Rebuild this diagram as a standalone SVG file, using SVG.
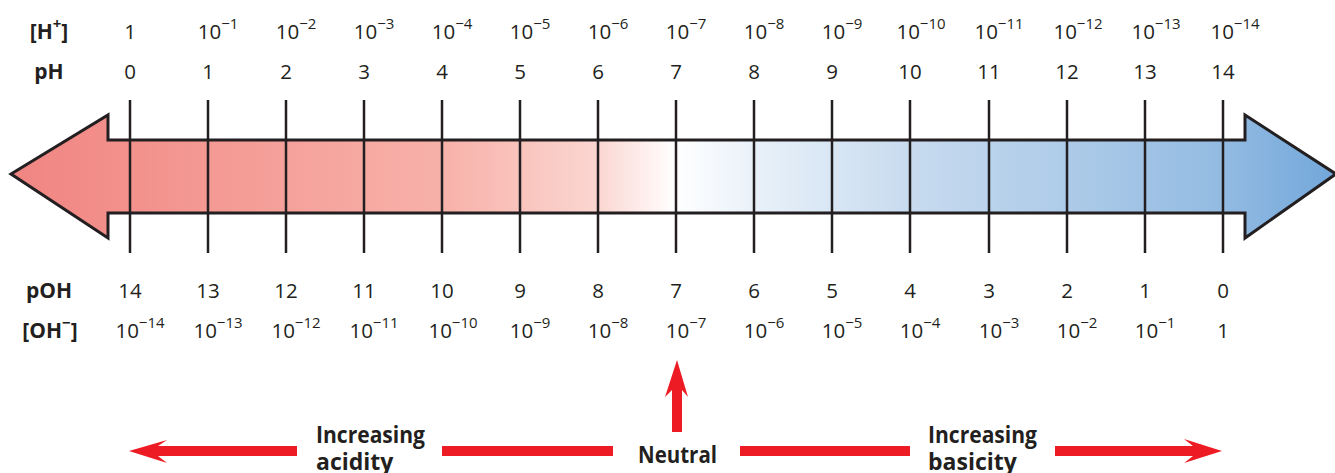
<svg xmlns="http://www.w3.org/2000/svg" width="1335" height="473" viewBox="0 0 1335 473">
<style>
text{font-family:"Open Sans","Liberation Sans",sans-serif;fill:#231F20}
.num{font-size:20.5px;text-anchor:middle}
.sup{font-size:15px}
.lab{font-size:21px;font-weight:700;text-anchor:middle}
.cap{font-size:23px;font-weight:700}
.tick{stroke:#231F20;stroke-width:2.5}
.red{fill:#ED1C24}
</style>
<defs>
<linearGradient id="grad" gradientUnits="userSpaceOnUse" x1="11" y1="0" x2="1335" y2="0">
<stop offset="0" stop-color="#F08582"/>
<stop offset="0.09" stop-color="#F3918C"/>
<stop offset="0.325" stop-color="#F7B1A9"/>
<stop offset="0.443" stop-color="#FBD6D1"/>
<stop offset="0.502" stop-color="#FFFFFF"/>
<stop offset="0.561" stop-color="#E9F1F9"/>
<stop offset="0.679" stop-color="#C8DBEF"/>
<stop offset="0.915" stop-color="#93BBE2"/>
<stop offset="1" stop-color="#72A7DA"/>
</linearGradient>
</defs>
<g id="scale-arrow">
<path d="M11,174 L108,115 L108,140 L1245,140 L1245,115 L1336,174 L1245,238 L1245,213 L108,213 L108,238 Z" fill="url(#grad)" stroke="#231F20" stroke-width="3" stroke-linejoin="miter"/>
</g>
<g id="ticks">
<line class="tick" x1="130" y1="100" x2="130" y2="253"/>
<line class="tick" x1="208" y1="100" x2="208" y2="253"/>
<line class="tick" x1="286" y1="100" x2="286" y2="253"/>
<line class="tick" x1="364" y1="100" x2="364" y2="253"/>
<line class="tick" x1="442" y1="100" x2="442" y2="253"/>
<line class="tick" x1="520" y1="100" x2="520" y2="253"/>
<line class="tick" x1="598" y1="100" x2="598" y2="253"/>
<line class="tick" x1="676" y1="100" x2="676" y2="253"/>
<line class="tick" x1="754" y1="100" x2="754" y2="253"/>
<line class="tick" x1="832" y1="100" x2="832" y2="253"/>
<line class="tick" x1="910" y1="100" x2="910" y2="253"/>
<line class="tick" x1="989" y1="100" x2="989" y2="253"/>
<line class="tick" x1="1067" y1="100" x2="1067" y2="253"/>
<line class="tick" x1="1145" y1="100" x2="1145" y2="253"/>
<line class="tick" x1="1223" y1="100" x2="1223" y2="253"/>
</g>
<g id="row-labels">
<text class="lab" x="49" y="39">[H<tspan class="sup" dy="-10">+</tspan><tspan dy="10">]</tspan></text>
<text class="lab" x="49" y="79">pH</text>
<text class="lab" x="49" y="298">pOH</text>
<text class="lab" x="50" y="338">[OH<tspan class="sup" dy="-10">−</tspan><tspan dy="10">]</tspan></text>
</g>
<g id="h-row">
<text class="num" x="130" y="39">1</text>
<text class="num" x="218" y="39">10<tspan class="sup" dy="-10">−1</tspan></text>
<text class="num" x="296" y="39">10<tspan class="sup" dy="-10">−2</tspan></text>
<text class="num" x="374" y="39">10<tspan class="sup" dy="-10">−3</tspan></text>
<text class="num" x="452" y="39">10<tspan class="sup" dy="-10">−4</tspan></text>
<text class="num" x="530" y="39">10<tspan class="sup" dy="-10">−5</tspan></text>
<text class="num" x="608" y="39">10<tspan class="sup" dy="-10">−6</tspan></text>
<text class="num" x="686" y="39">10<tspan class="sup" dy="-10">−7</tspan></text>
<text class="num" x="764" y="39">10<tspan class="sup" dy="-10">−8</tspan></text>
<text class="num" x="842" y="39">10<tspan class="sup" dy="-10">−9</tspan></text>
<text class="num" x="921" y="39">10<tspan class="sup" dy="-10">−10</tspan></text>
<text class="num" x="999" y="39">10<tspan class="sup" dy="-10">−11</tspan></text>
<text class="num" x="1078" y="39">10<tspan class="sup" dy="-10">−12</tspan></text>
<text class="num" x="1156" y="39">10<tspan class="sup" dy="-10">−13</tspan></text>
<text class="num" x="1235" y="39">10<tspan class="sup" dy="-10">−14</tspan></text>
</g>
<g id="ph-row">
<text class="num" x="130" y="79">0</text>
<text class="num" x="208" y="79">1</text>
<text class="num" x="286" y="79">2</text>
<text class="num" x="364" y="79">3</text>
<text class="num" x="442" y="79">4</text>
<text class="num" x="520" y="79">5</text>
<text class="num" x="598" y="79">6</text>
<text class="num" x="676" y="79">7</text>
<text class="num" x="754" y="79">8</text>
<text class="num" x="832" y="79">9</text>
<text class="num" x="910" y="79">10</text>
<text class="num" x="989" y="79">11</text>
<text class="num" x="1067" y="79">12</text>
<text class="num" x="1145" y="79">13</text>
<text class="num" x="1223" y="79">14</text>
</g>
<g id="poh-row">
<text class="num" x="130" y="298">14</text>
<text class="num" x="208" y="298">13</text>
<text class="num" x="286" y="298">12</text>
<text class="num" x="364" y="298">11</text>
<text class="num" x="442" y="298">10</text>
<text class="num" x="520" y="298">9</text>
<text class="num" x="598" y="298">8</text>
<text class="num" x="676" y="298">7</text>
<text class="num" x="754" y="298">6</text>
<text class="num" x="832" y="298">5</text>
<text class="num" x="910" y="298">4</text>
<text class="num" x="989" y="298">3</text>
<text class="num" x="1067" y="298">2</text>
<text class="num" x="1145" y="298">1</text>
<text class="num" x="1223" y="298">0</text>
</g>
<g id="oh-row">
<text class="num" x="140" y="338">10<tspan class="sup" dy="-10">−14</tspan></text>
<text class="num" x="218" y="338">10<tspan class="sup" dy="-10">−13</tspan></text>
<text class="num" x="296" y="338">10<tspan class="sup" dy="-10">−12</tspan></text>
<text class="num" x="374" y="338">10<tspan class="sup" dy="-10">−11</tspan></text>
<text class="num" x="453" y="338">10<tspan class="sup" dy="-10">−10</tspan></text>
<text class="num" x="530" y="338">10<tspan class="sup" dy="-10">−9</tspan></text>
<text class="num" x="608" y="338">10<tspan class="sup" dy="-10">−8</tspan></text>
<text class="num" x="686" y="338">10<tspan class="sup" dy="-10">−7</tspan></text>
<text class="num" x="764" y="338">10<tspan class="sup" dy="-10">−6</tspan></text>
<text class="num" x="842" y="338">10<tspan class="sup" dy="-10">−5</tspan></text>
<text class="num" x="920" y="338">10<tspan class="sup" dy="-10">−4</tspan></text>
<text class="num" x="999" y="338">10<tspan class="sup" dy="-10">−3</tspan></text>
<text class="num" x="1077" y="338">10<tspan class="sup" dy="-10">−2</tspan></text>
<text class="num" x="1155" y="338">10<tspan class="sup" dy="-10">−1</tspan></text>
<text class="num" x="1223" y="338">1</text>
</g>
<g id="connectors">
<path class="red" d="M129,451 L167,440 L158,446 L297,446 L297,456 L158,456 L167,463 Z"/>
<rect class="red" x="442" y="446" width="171" height="10"/>
<rect class="red" x="740" y="446" width="170" height="10"/>
<path class="red" d="M1222,451 L1184,439 L1193,446 L1055,446 L1055,456 L1193,456 L1184,463 Z"/>
<path class="red" d="M677,360 L688,397 L682,390 L682,432 L672,432 L672,390 L665,397 Z"/>
</g>
<g id="caption-acidity">
<text class="cap" x="316" y="443" textLength="109" lengthAdjust="spacingAndGlyphs">Increasing</text>
<text class="cap" x="316" y="470">acidity</text>
</g>
<g id="caption-neutral">
<text class="cap" x="638" y="463" textLength="79" lengthAdjust="spacingAndGlyphs">Neutral</text>
</g>
<g id="caption-basicity">
<text class="cap" x="928" y="443" textLength="109" lengthAdjust="spacingAndGlyphs">Increasing</text>
<text class="cap" x="928" y="470">basicity</text>
</g>
</svg>
